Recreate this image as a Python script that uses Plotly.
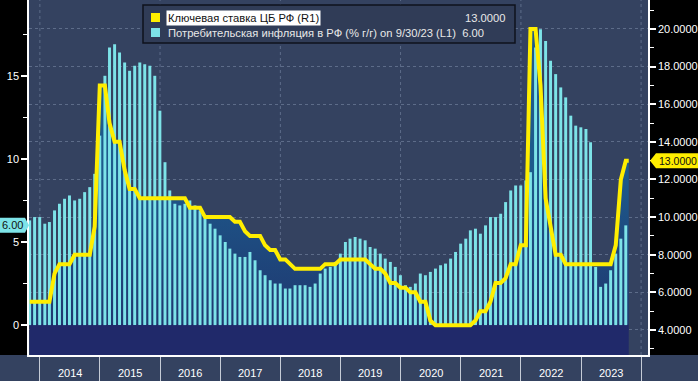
import pandas as pd
import plotly.graph_objects as go

# ---------------- data ----------------
months = pd.date_range("2013-10-31", periods=120, freq=pd.offsets.MonthEnd())

cpi_yoy = [
    6.3, 6.5, 6.5,
    6.1, 6.2, 6.9, 7.3, 7.6, 7.8, 7.5, 7.6, 8.0, 8.3, 9.1, 11.4,
    15.0, 16.7, 16.9, 16.4, 15.8, 15.3, 15.6, 15.8, 15.7, 15.6, 15.0, 12.9,
    9.8, 8.1, 7.3, 7.2, 7.3, 7.5, 7.2, 6.9, 6.4, 6.1, 5.8, 5.4,
    5.0, 4.6, 4.3, 4.1, 4.1, 4.4, 3.9, 3.3, 3.0, 2.7, 2.5, 2.5,
    2.2, 2.2, 2.4, 2.4, 2.4, 2.3, 2.5, 3.1, 3.4, 3.5, 3.8, 4.3,
    5.0, 5.2, 5.3, 5.2, 5.1, 4.7, 4.6, 4.3, 4.0, 3.8, 3.5, 3.0,
    2.4, 2.3, 2.5, 3.1, 3.0, 3.2, 3.4, 3.6, 3.7, 4.0, 4.4, 4.9,
    5.2, 5.7, 5.8, 5.5, 6.0, 6.5, 6.5, 6.7, 7.4, 8.1, 8.4, 8.4,
    8.7, 9.2, 16.7, 17.8, 17.1, 15.9, 15.1, 14.3, 13.7, 12.6, 12.0, 11.9,
    11.8, 11.0, 3.5, 2.3, 2.5, 3.3, 4.3, 5.2, 6.0,
]

key_rate = [
    5.5, 5.5, 5.5,
    5.5, 5.5, 7.0, 7.5, 7.5, 7.5, 8.0, 8.0, 8.0, 8.0, 9.5, 17.0,
    17.0, 15.0, 14.0, 14.0, 12.5, 11.5, 11.5, 11.0, 11.0, 11.0, 11.0, 11.0,
    11.0, 11.0, 11.0, 11.0, 11.0, 10.5, 10.5, 10.5, 10.0, 10.0, 10.0, 10.0,
    10.0, 10.0, 9.75, 9.75, 9.25, 9.0, 9.0, 9.0, 8.5, 8.25, 8.25, 7.75,
    7.75, 7.5, 7.25, 7.25, 7.25, 7.25, 7.25, 7.25, 7.5, 7.5, 7.5, 7.75,
    7.75, 7.75, 7.75, 7.75, 7.75, 7.5, 7.25, 7.25, 7.0, 6.5, 6.5, 6.25,
    6.25, 6.0, 6.0, 5.5, 5.5, 4.5, 4.25, 4.25, 4.25, 4.25, 4.25, 4.25,
    4.25, 4.25, 4.5, 5.0, 5.0, 5.5, 6.5, 6.5, 6.75, 7.5, 7.5, 8.5,
    8.5, 20.0, 20.0, 17.0, 11.0, 9.5, 8.0, 8.0, 7.5, 7.5, 7.5, 7.5,
    7.5, 7.5, 7.5, 7.5, 7.5, 7.5, 8.5, 12.0, 13.0,
]
key_rate_last_date = "2023-10-18"
key_rate_last = 13.0

rate_dates = list(months) + [pd.Timestamp(key_rate_last_date)]
rate_vals = key_rate + [key_rate_last]

year_labels = [2014, 2015, 2016, 2017, 2018, 2019, 2020, 2021, 2022, 2023]
grid_years = [2014, 2016, 2018, 2020, 2022, 2024]

year_range = ["2013-10-27", "2024-02-12"]
left_range = [-1.8, 19.56]
right_range = [2.67, 21.54]

name_rate = "Ключевая ставка ЦБ РФ (R1)"
name_cpi = "Потребительская инфляция в РФ (% г/г) on 9/30/23 (L1)"

# ---------------- style ----------------
BG = "#344260"
NAVY = "#20296a"
CYAN = "#7de3e8"
YELLOW = "#ffee00"
GRID = "#5d6c89"
FONT = "Liberation Sans"

fig = go.Figure()

# gradient area under key rate (main y = right scale)
fig.add_trace(go.Scatter(
    x=rate_dates, y=rate_vals, mode="none", fill="tozeroy",
    fillgradient=dict(type="vertical", start=right_range[0], stop=12.5,
                      colorscale=[[0, NAVY], [0.165, NAVY], [0.17, "#1f3870"],
                                  [1, "#1d5a8c"]]),
    xaxis="x", yaxis="y", showlegend=False, hoverinfo="skip"))

# CPI bars (left scale)
fig.add_trace(go.Bar(
    x=months, y=cpi_yoy, marker=dict(color=CYAN, line=dict(width=0)),
    xaxis="x", yaxis="y2", showlegend=False, name=name_cpi))

# key rate line (right scale, on top)
fig.add_trace(go.Scatter(
    x=rate_dates, y=rate_vals, mode="lines",
    line=dict(color=YELLOW, width=4), xaxis="x", yaxis="y3",
    showlegend=False, name=name_rate))

fig.update_layout(
    width=698, height=381,
    margin=dict(l=29, r=50, t=0, b=26, autoexpand=False),
    paper_bgcolor="black", plot_bgcolor=BG,
    bargap=0.36,
    font=dict(family=FONT, size=11, color="white"),
    xaxis=dict(
        type="date", range=year_range, dtick="M12", tick0="2014-01-01",
        showticklabels=False, ticks="outside", ticklen=26,
        tickcolor="#c5cbd6", tickwidth=1, showgrid=False,
        zeroline=False, showline=True, linecolor="white",
        linewidth=1.5, automargin=False,
    ),
    yaxis=dict(
        side="right", range=right_range, dtick=2, tick0=0, tickformat=".4f",
        ticks="outside", ticklen=6, tickwidth=2, tickcolor="white",
        minor=dict(dtick=1, ticks="outside", ticklen=4, tickcolor="white",
                   tickwidth=1, showgrid=False),
        showgrid=True, gridcolor=GRID, griddash="3px,3px", gridwidth=1,
        zeroline=False, showline=True, linecolor="white", linewidth=1.5,
        tickfont=dict(size=11, color="white"), automargin=False,
    ),
    yaxis2=dict(
        overlaying="y", side="left", range=left_range, dtick=5, tick0=0,
        ticks="outside", ticklen=6, tickwidth=2, tickcolor="white",
        minor=dict(dtick=2.5, ticks="outside", ticklen=4, tickcolor="white",
                   tickwidth=1, showgrid=False),
        showgrid=False, zeroline=False, showline=True, linecolor="white",
        linewidth=1.5, tickfont=dict(size=11, color="white"), automargin=False,
    ),
    yaxis3=dict(overlaying="y", matches="y", visible=False, showgrid=False,
                zeroline=False),
)

# px -> paper helpers for the legend box / bottom band
W, H, L = 619.0, 355.0, 29.0
def px(x):
    return (x - L) / W
def py(y):
    return (H - y) / H

shapes = [
    # x-axis band background
    dict(type="rect", xref="paper", yref="paper", x0=px(0), x1=px(698),
         y0=py(381), y1=0, fillcolor=BG, line=dict(width=0), layer="below"),
]
# vertical dashed grid every two years
for gy in grid_years:
    shapes.append(dict(type="line", xref="x", yref="paper",
                       x0=f"{gy}-01-01", x1=f"{gy}-01-01", y0=0, y1=1,
                       line=dict(color=GRID, width=1, dash="3px,3px"),
                       layer="below"))
shapes += [
    # legend box
    dict(type="rect", xref="paper", yref="paper", x0=px(143), x1=px(515),
         y0=py(43), y1=py(5), fillcolor="#303c57",
         line=dict(color="#0e121c", width=1.5)),
    dict(type="rect", xref="paper", yref="paper", x0=px(151), x1=px(160),
         y0=py(22), y1=py(13), fillcolor=YELLOW, line=dict(width=0)),
    dict(type="rect", xref="paper", yref="paper", x0=px(151), x1=px(160),
         y0=py(37), y1=py(28), fillcolor=CYAN, line=dict(width=0)),
    # right value tag (key rate)
    dict(type="path", xref="paper", yref="y", xsizemode="pixel",
         ysizemode="pixel", xanchor=1, yanchor=rate_vals[-1],
         path="M2,0 L8,7.5 L50,7.5 L50,-7.5 L8,-7.5 Z",
         fillcolor=YELLOW, line=dict(width=0)),
    # left value tag (cpi)
    dict(type="path", xref="paper", yref="y2", xsizemode="pixel",
         ysizemode="pixel", xanchor=0, yanchor=cpi_yoy[-1],
         path="M-29,7.5 L-4,7.5 L0,0 L-4,-7.5 L-29,-7.5 Z",
         fillcolor=CYAN, line=dict(width=0)),
]
fig.update_layout(shapes=shapes)

LEG = 11.2
annotations = [
    dict(xref="paper", yref="paper", x=px(166), y=py(18), xanchor="left",
         yanchor="middle", text=name_rate, showarrow=False, bgcolor="white",
         borderpad=1, font=dict(size=LEG, color="#111111", family=FONT)),
    dict(xref="paper", yref="paper", x=px(507), y=py(18), xanchor="right",
         yanchor="middle", text=f"{rate_vals[-1]:.4f}", showarrow=False,
         font=dict(size=LEG, color="#e8e8e8", family=FONT)),
    dict(xref="paper", yref="paper", x=px(166), y=py(33), xanchor="left",
         yanchor="middle", text=name_cpi + "\u00a0\u00a0" + f"{cpi_yoy[-1]:.2f}",
         showarrow=False, font=dict(size=LEG, color="#e8e8e8", family=FONT)),
    dict(xref="paper", yref="y", x=1, xshift=9, y=rate_vals[-1],
         xanchor="left", yanchor="middle", text=f"{rate_vals[-1]:.4f}",
         showarrow=False, font=dict(size=10.5, color="#111111", family=FONT)),
    dict(xref="paper", yref="y2", x=0, xshift=-4, y=cpi_yoy[-1],
         xanchor="right", yanchor="middle", text=f"{cpi_yoy[-1]:.2f}",
         showarrow=False, font=dict(size=11, color="#111111", family=FONT)),
]
# year labels centred in each year period
for yr in year_labels:
    annotations.append(dict(
        xref="x", yref="paper", x=f"{yr}-07-02", y=py(373), xanchor="center",
        yanchor="middle", text=str(yr), showarrow=False,
        font=dict(size=11, color="white", family=FONT)))
fig.update_layout(annotations=annotations)

fig.write_html("out.html", post_script="document.body.style.margin='0';",
               config={"displayModeBar": False})
